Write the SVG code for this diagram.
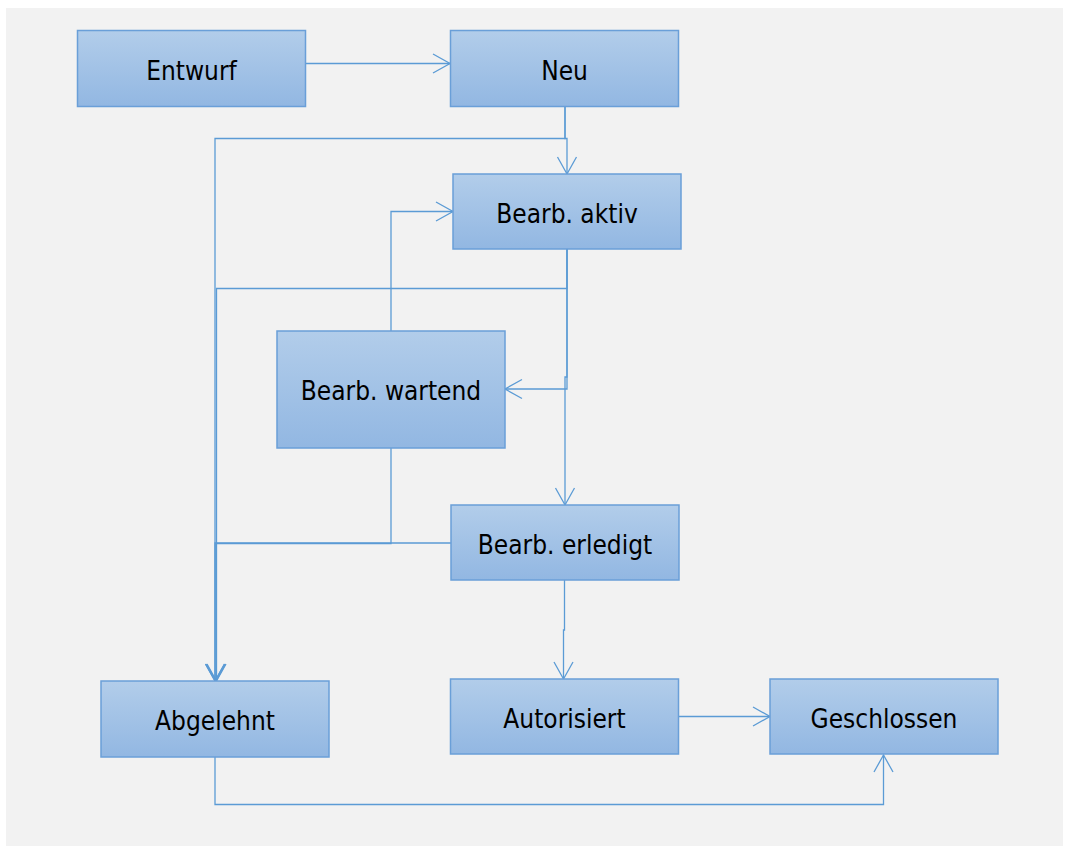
<svg xmlns="http://www.w3.org/2000/svg" width="1068" height="849" viewBox="0 0 1068 849">
<style>
.box{fill:url(#g);stroke:#6a9fd8;stroke-width:1.5}
.lbl{font-family:"DejaVu Sans Condensed","DejaVu Sans",sans-serif;font-stretch:condensed;font-size:26px;fill:#000;text-anchor:middle}
.c{fill:none;stroke:#5b9bd5;stroke-width:1.3;marker-end:url(#a)}
</style>
<defs>
<linearGradient id="g" x1="0" y1="0" x2="0" y2="1">
<stop offset="0" stop-color="#b2cdea"/>
<stop offset="1" stop-color="#92b7e2"/>
</linearGradient>
<marker id="a" markerUnits="userSpaceOnUse" markerWidth="20" markerHeight="22" viewBox="-18 -11 20 22" refX="0" refY="0" orient="auto" overflow="visible">
<path d="M-17,-9.5 L0,0 L-17,9.5" fill="none" stroke="#5b9bd5" stroke-width="1.3"/>
</marker>
</defs>
<rect x="0" y="0" width="1068" height="849" fill="#ffffff"/>
<rect x="6" y="8" width="1057" height="838" fill="#f2f2f2"/>
<g id="connectors">
<path class="c" d="M306,63.5 H450"/>
<path class="c" d="M565,106 V138.5 H567 V174"/>
<path class="c" d="M565,106 V138.5 H215 V681"/>
<path class="c" d="M567,249 V389 H505"/>
<path class="c" d="M567,249 V288.5 H216.5 V681"/>
<path class="c" d="M567,249 V377 H565 V505"/>
<path class="c" d="M391,331 V211.5 H453"/>
<path class="c" d="M391,448 V543.5 H216 V681"/>
<path class="c" d="M451,543 H215 V681"/>
<path class="c" d="M564.5,580 V630 H563.5 V679"/>
<path class="c" d="M678,716.5 H770"/>
<path class="c" d="M215,757 V804.5 H883.5 V755"/>
</g>
<g id="entwurf"><rect class="box" x="77.5" y="30.5" width="228" height="76"/><text class="lbl" x="191.5" y="79.5">Entwurf</text></g>
<g id="neu"><rect class="box" x="450.5" y="30.5" width="228" height="76"/><text class="lbl" x="564.5" y="79.5">Neu</text></g>
<g id="bearb-aktiv"><rect class="box" x="453" y="174" width="228" height="75"/><text class="lbl" x="567" y="222.5">Bearb. aktiv</text></g>
<g id="bearb-wartend"><rect class="box" x="277" y="331" width="228" height="117"/><text class="lbl" x="391" y="400">Bearb. wartend</text></g>
<g id="bearb-erledigt"><rect class="box" x="451" y="505" width="228" height="75"/><text class="lbl" x="565" y="553.5">Bearb. erledigt</text></g>
<g id="abgelehnt"><rect class="box" x="101" y="681" width="228" height="76"/><text class="lbl" x="215" y="729.5">Abgelehnt</text></g>
<g id="autorisiert"><rect class="box" x="450.5" y="679" width="228" height="75"/><text class="lbl" x="564.5" y="727.5">Autorisiert</text></g>
<g id="geschlossen"><rect class="box" x="770" y="679" width="228" height="75"/><text class="lbl" x="884" y="727.5">Geschlossen</text></g>
</svg>
